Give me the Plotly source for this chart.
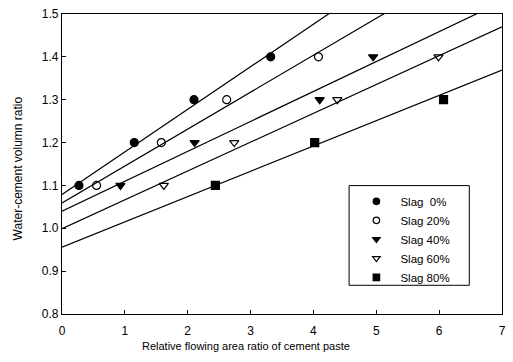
import plotly.graph_objects as go

series_names = ["Slag  0%", "Slag 20%", "Slag 40%", "Slag 60%", "Slag 80%"]
x_vals = [
    [0.27, 1.15, 2.10, 3.32],
    [0.55, 1.58, 2.62, 4.08],
    [0.93, 2.11, 4.10, 4.95],
    [1.62, 2.74, 4.38, 5.99],
    [2.44, 4.02, 6.07],
]
y_vals = [
    [1.1, 1.2, 1.3, 1.4],
    [1.1, 1.2, 1.3, 1.4],
    [1.1, 1.2, 1.3, 1.4],
    [1.1, 1.2, 1.3, 1.4],
    [1.1, 1.2, 1.3],
]
# fitted lines (intercept at x=0, slope)
fit_intercepts = [1.079, 1.059, 1.040, 0.999, 0.956]
fit_slopes = [0.0993, 0.0862, 0.0698, 0.0673, 0.0590]
fit_x_range = [0, 7]

symbols = ["circle", "circle-open", "triangle-down", "triangle-down-open", "square"]
x_ticks = [0, 1, 2, 3, 4, 5, 6, 7]
y_ticks = [0.8, 0.9, 1.0, 1.1, 1.2, 1.3, 1.4, 1.5]

x_title = "Relative flowing area ratio of cement paste"
y_title = "Water-cement volumn ratio"

fig = go.Figure()
for b, m in zip(fit_intercepts, fit_slopes):
    fig.add_trace(go.Scatter(
        x=fit_x_range, y=[b + m * xx for xx in fit_x_range],
        mode="lines", line=dict(color="black", width=1.2),
        showlegend=False, hoverinfo="skip"))

for name, xs, ys, sym in zip(series_names, x_vals, y_vals, symbols):
    fig.add_trace(go.Scatter(
        x=xs, y=ys, mode="markers", name=name, legendgroup=name,
        marker=dict(symbol=sym, size=8, color="black",
                    line=dict(color="black", width=1.2)),
        showlegend=False))
    # legend entry with the smaller legend symbol
    fig.add_trace(go.Scatter(
        x=[None], y=[None], mode="markers", name=name, legendgroup=name,
        marker=dict(symbol=sym, size=6.5, color="black",
                    line=dict(color="black", width=1.2)),
        showlegend=True))

axis_common = dict(showgrid=False, zeroline=False, showline=True, linecolor="black",
                   linewidth=1.2, mirror=True, ticks="inside", ticklen=4,
                   tickcolor="black", tickfont=dict(size=12, color="black"))

fig.update_layout(
    width=513, height=362,
    margin=dict(l=62, r=7, t=11, b=48),
    paper_bgcolor="white", plot_bgcolor="white",
    font=dict(family="Liberation Sans, Arial, sans-serif", color="black", size=12),
    xaxis=dict(range=[0, 7], tickvals=x_ticks, ticktext=[str(v) for v in x_ticks],
               ticklabelstandoff=5, **axis_common),
    yaxis=dict(range=[0.8, 1.5], tickvals=y_ticks, ticktext=[f"{v:.1f}" for v in y_ticks],
               **axis_common),
    legend=dict(x=0.66, y=0.424, xanchor="left", yanchor="top",
                borderwidth=0, bgcolor="rgba(0,0,0,0)",
                font=dict(size=11.5), itemwidth=38, tracegroupgap=0),
    showlegend=True,
    shapes=[dict(type="rect", xref="paper", yref="paper",
                 x0=0.6525, x1=0.9257, y0=0.0957, y1=0.428,
                 line=dict(color="black", width=1), fillcolor="white", layer="below")],
    annotations=[
        dict(text=x_title, xref="paper", yref="paper", x=0.418, y=-0.1056,
             xanchor="center", yanchor="middle", showarrow=False, font=dict(size=11)),
        dict(text=y_title, xref="paper", yref="paper", x=-0.1002, y=0.485,
             xanchor="center", yanchor="middle", showarrow=False, textangle=-90,
             font=dict(size=12)),
    ],
)

fig.write_html("out.html")
